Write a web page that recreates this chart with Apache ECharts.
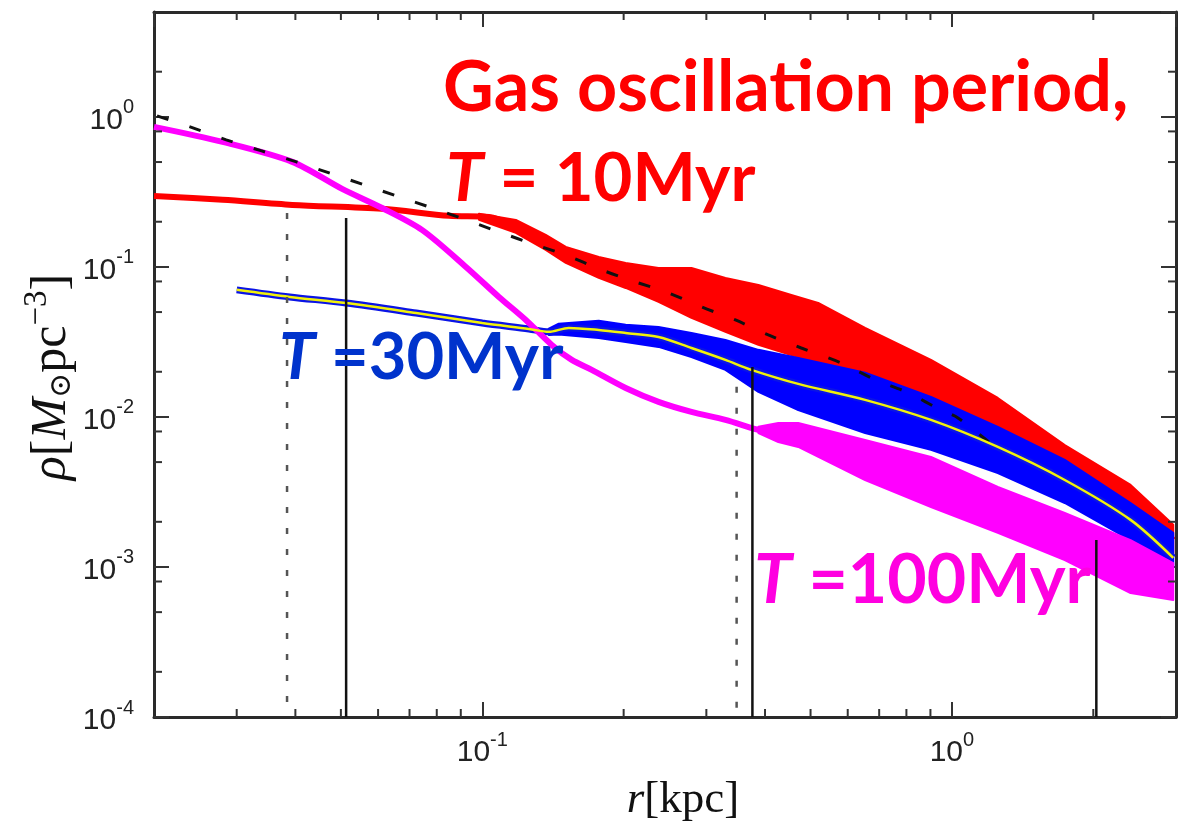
<!DOCTYPE html>
<html>
<head>
<meta charset="utf-8">
<script src="https://cdn.jsdelivr.net/npm/echarts@6/dist/echarts.min.js"></script>
<style>html,body{margin:0;padding:0;background:#fff}#c{width:1178px;height:824px}</style>
</head>
<body>
<div id="c"></div>
<script>
// ---- axis ranges / ticks ----
const xRange = [0.02, 3];
const yRange = [1e-4, 5];
const xMinorTicks = [0.03, 0.04, 0.05, 0.06, 0.07, 0.08, 0.09, 0.2, 0.3, 0.4, 0.5, 0.6, 0.7, 0.8, 0.9, 2];
const yMinorTicks = [2e-4, 5e-4, 8e-4, 2e-3, 5e-3, 8e-3, 0.02, 0.05, 0.08, 0.2, 0.5, 0.8, 2];

// ---- dashed model profile ----
const dashR   = [0.0203, 0.0242, 0.0285, 0.0339, 0.0402, 0.0472, 0.0561, 0.0665, 0.0782, 0.0923, 0.1085, 0.130, 0.1506, 0.1796, 0.2121, 0.2492, 0.2929, 0.3459, 0.4065, 0.4778, 0.5809, 0.6862, 0.8064, 0.9476, 1.030, 1.234];
const dashRho = [1.015, 0.845, 0.703, 0.593, 0.501, 0.423, 0.352, 0.293, 0.247, 0.206, 0.171, 0.140, 0.120, 0.0955, 0.0794, 0.0671, 0.0541, 0.0443, 0.0352, 0.0288, 0.0229, 0.0177, 0.0145, 0.0111, 0.00985, 0.00631];

// ---- T = 10 Myr (red) ----
const redR   = [0.0200, 0.0280, 0.0394, 0.0612, 0.0850, 0.1033, 0.1179, 0.1365, 0.1506, 0.1770, 0.2020, 0.2373, 0.2789, 0.3294, 0.3872, 0.4550, 0.5191, 0.6533, 0.9024, 1.2524, 1.739, 2.401, 2.96];
const redRho = [0.297, 0.280, 0.259, 0.244, 0.219, 0.215, 0.185, 0.145, 0.120, 0.100, 0.0885, 0.0759, 0.0671, 0.0558, 0.0479, 0.0411, 0.0363, 0.0251, 0.0154, 0.00926, 0.00501, 0.0028, 0.00151];
const redBandR  = [0.0984, 0.1179, 0.1365, 0.1506, 0.1770, 0.2020, 0.2373, 0.2789, 0.3294, 0.3872, 0.4550, 0.5191, 0.6533, 0.9024, 1.2524, 1.739, 2.401, 2.96];
const redBandHi = [0.226, 0.2057, 0.1634, 0.1359, 0.1166, 0.1063, 0.0985, 0.0985, 0.0845, 0.0759, 0.0651, 0.0575, 0.0392, 0.0240, 0.01338, 0.0065, 0.00352, 0.00191];
const redBandLo = [0.206, 0.1686, 0.1299, 0.1063, 0.0845, 0.0724, 0.0584, 0.0457, 0.0369, 0.0302, 0.0259, 0.0233, 0.0151, 0.00955, 0.00622, 0.0038, 0.00219, 0.00118];

// ---- T = 30 Myr (blue, yellow mean) ----
const blueR   = [0.0300, 0.0389, 0.0513, 0.0723, 0.1000, 0.1257, 0.1386, 0.1528, 0.1770, 0.2020, 0.2373, 0.2789, 0.3294, 0.3741, 0.4708, 0.6533, 0.9024, 1.2524, 1.739, 2.401, 2.96];
const blueRho = [0.0703, 0.0631, 0.0575, 0.0493, 0.0423, 0.0386, 0.0369, 0.0392, 0.0380, 0.0363, 0.0341, 0.0288, 0.0240, 0.0206, 0.0166, 0.0130, 0.00955, 0.00631, 0.0038, 0.00206, 0.00115];
const blueBandR  = [0.1386, 0.1455, 0.1770, 0.2020, 0.2373, 0.2789, 0.3294, 0.3872, 0.4708, 0.6533, 0.9024, 1.2524, 1.739, 2.401, 2.96];
const blueBandHi = [0.0388, 0.0418, 0.0437, 0.0411, 0.0398, 0.0363, 0.0326, 0.0280, 0.0247, 0.0197, 0.0136, 0.00858, 0.00517, 0.00267, 0.00169];
const blueBandLo = [0.0352, 0.0355, 0.0336, 0.0316, 0.0293, 0.0251, 0.0206, 0.0147, 0.0111, 0.00782, 0.00603, 0.00423, 0.00267, 0.00151, 0.0010];

// ---- T = 100 Myr (magenta) ----
const magR   = [0.0200, 0.0280, 0.0394, 0.0503, 0.0612, 0.0744, 0.0923, 0.1085, 0.1238, 0.1406, 0.1551, 0.1710, 0.2020, 0.2373, 0.2789, 0.3294, 0.3872, 0.4269, 0.4708, 0.6533, 0.9024, 1.2524, 1.739, 2.401, 2.96];
const magRho = [0.858, 0.681, 0.501, 0.331, 0.247, 0.1765, 0.100, 0.0631, 0.0443, 0.0302, 0.0240, 0.0206, 0.0156, 0.0126, 0.0108, 0.00955, 0.00819, 0.0077, 0.00759, 0.00517, 0.00369, 0.0024, 0.00158, 0.0010, 0.000794];
const magBandR  = [0.3872, 0.4269, 0.4708, 0.6533, 0.9024, 1.2524, 1.739, 2.401, 2.96];
const magBandHi = [0.0086, 0.0091, 0.00912, 0.00703, 0.00541, 0.00341, 0.00229, 0.00151, 0.00106];
const magBandLo = [0.0078, 0.0068, 0.00631, 0.0038, 0.00251, 0.00169, 0.00111, 0.00067, 0.000603];

// ---- vertical marker lines ----
const dottedR   = [0.0384, 0.348];
const dottedTop = [0.229, 0.0159];
const solidR    = [0.0513, 0.376, 2.03];
const solidTop  = [0.212, 0.0215, 0.00151];

// ---- texts ----
const xTickLabelBase = '10';
const titleLine1 = 'Gas oscillation period,';

const zip = (a, b) => a.map((v, i) => [v, b[i]]);

function bandSeries(rs, hi, lo, color, z) {
  return {
    type: 'custom', z: z, silent: true, clip: true,
    data: rs.map((r, i) => [r, hi[i], lo[i]]),
    renderItem: function (params, api) {
      if (params.dataIndex !== 0) return null;
      const pts = [];
      for (let i = 0; i < rs.length; i++) pts.push(api.coord([rs[i], hi[i]]));
      for (let i = rs.length - 1; i >= 0; i--) pts.push(api.coord([rs[i], lo[i]]));
      return { type: 'polygon', shape: { points: pts },
        style: { fill: color, stroke: color, lineWidth: 2, lineJoin: 'round' } };
    }
  };
}

function lineSeries(data, color, width, z, type) {
  return { type: 'line', data: data, z: z, symbol: 'none', silent: true, smooth: 0.3,
    lineStyle: { color: color, width: width, type: type || 'solid', cap: 'butt' } };
}

function vlineSeries(rs, tops, dotted, z) {
  return rs.map((r, i) => ({
    type: 'line', z: z, symbol: 'none', silent: true,
    data: [[r, tops[i]], [r, yRange[0]]],
    lineStyle: dotted ? { color: '#555', width: 2.5, type: [6, 15] } : { color: '#111', width: 2.5 }
  }));
}

function minorTickSeries(vals, isX) {
  return {
    type: 'custom', z: 30, silent: true, clip: false,
    data: vals.map(v => isX ? [v, 1] : [0.1, v]),
    renderItem: function (params, api) {
      const cs = params.coordSys;
      const p = api.coord([api.value(0), api.value(1)]);
      const L = 8;
      const st = { stroke: '#333', lineWidth: 2 };
      if (isX) {
        const x = p[0];
        return { type: 'group', children: [
          { type: 'line', shape: { x1: x, y1: cs.y + cs.height, x2: x, y2: cs.y + cs.height - L }, style: st },
          { type: 'line', shape: { x1: x, y1: cs.y, x2: x, y2: cs.y + L }, style: st }
        ]};
      }
      const y = p[1];
      return { type: 'group', children: [
        { type: 'line', shape: { x1: cs.x, y1: y, x2: cs.x + L, y2: y }, style: st },
        { type: 'line', shape: { x1: cs.x + cs.width, y1: y, x2: cs.x + cs.width - L, y2: y }, style: st }
      ]};
    }
  };
}

function decadeLabel(v) {
  const e = Math.log10(v), n = Math.round(e);
  if (Math.abs(e - n) > 1e-6) return '';
  return '{b|' + xTickLabelBase + '}{s|' + n + '}';
}

const labelRich = {
  b: { fontSize: 30, fontFamily: 'Liberation Sans', color: '#222', verticalAlign: 'bottom', lineHeight: 38 },
  s: { fontSize: 20, fontFamily: 'Liberation Sans', color: '#222', verticalAlign: 'top', lineHeight: 21 }
};

const axisLineStyle = { show: true, lineStyle: { color: '#2a2a2a', width: 3 } };
const majorTick = { show: true, inside: true, length: 15, lineStyle: { color: '#333', width: 2 } };

const chart = echarts.init(document.getElementById('c'), null, { renderer: 'canvas' });
chart.setOption({
  animation: false,
  backgroundColor: '#fff',
  grid: { left: 154, right: 2, top: 12, bottom: 107, containLabel: false },
  xAxis: [
    { type: 'log', logBase: 10, min: xRange[0], max: xRange[1], position: 'bottom',
      axisLine: axisLineStyle, axisTick: majorTick, splitLine: { show: false },
      axisLabel: { show: true, margin: 13, formatter: decadeLabel, rich: labelRich, showMinLabel: false, showMaxLabel: false } },
    { type: 'log', logBase: 10, min: xRange[0], max: xRange[1], position: 'top',
      axisLine: axisLineStyle, axisTick: majorTick, splitLine: { show: false }, axisLabel: { show: false } }
  ],
  yAxis: [
    { type: 'log', logBase: 10, min: yRange[0], max: yRange[1], position: 'left',
      axisLine: axisLineStyle, axisTick: majorTick, splitLine: { show: false },
      axisLabel: { show: true, margin: 20, formatter: decadeLabel, rich: labelRich, showMaxLabel: false } },
    { type: 'log', logBase: 10, min: yRange[0], max: yRange[1], position: 'right',
      axisLine: axisLineStyle, axisTick: majorTick, splitLine: { show: false }, axisLabel: { show: false } }
  ],
  series: [
    bandSeries(redBandR, redBandHi, redBandLo, '#ff0000', 1),
    lineSeries(zip(redR, redRho), '#ff0000', 6, 2),
    bandSeries(blueBandR, blueBandHi, blueBandLo, '#0000ff', 3),
    lineSeries(zip(blueR, blueRho), '#0a14e6', 7, 4),
    bandSeries(magBandR, magBandHi, magBandLo, '#ff00ff', 5),
    lineSeries(zip(magR, magRho), '#ff00ff', 6, 6),
    lineSeries(zip(dashR, dashRho), '#111', 3, 7, [12, 22]),
    lineSeries(zip(blueR, blueRho), '#f2f20a', 2.5, 8),
    ...vlineSeries(dottedR, dottedTop, true, 9),
    ...vlineSeries(solidR, solidTop, false, 9),
    minorTickSeries(xMinorTicks, true),
    minorTickSeries(yMinorTicks, false)
  ],
  graphic: [
    { type: 'text', x: 443, y: 88, z: 50, style: { text: titleLine1, font: 'bold 70px Lato', fill: '#ff0000', align: 'left', verticalAlign: 'middle' } },
    { type: 'text', x: 446, y: 179, z: 50, style: { text: '{i|T} = 10Myr', font: 'bold 67px Lato', fill: '#ff0000', align: 'left', verticalAlign: 'middle',
        rich: { i: { fontStyle: 'italic', fontWeight: 'bold', fontSize: 67, fontFamily: 'Lato', fill: '#ff0000' } } } },
    { type: 'text', x: 279, y: 358, z: 50, style: { text: '{i|T} =30Myr', font: 'bold 65px Lato', fill: '#0033cc', align: 'left', verticalAlign: 'middle',
        rich: { i: { fontStyle: 'italic', fontWeight: 'bold', fontSize: 65, fontFamily: 'Lato', fill: '#0033cc' } } } },
    { type: 'text', x: 754, y: 581, z: 50, style: { text: '{i|T} =100Myr', font: 'bold 68px Lato', fill: '#ff00e0', align: 'left', verticalAlign: 'middle',
        rich: { i: { fontStyle: 'italic', fontWeight: 'bold', fontSize: 68, fontFamily: 'Lato', fill: '#ff00e0' } } } },
    { type: 'text', x: 683, y: 800, z: 50, style: { text: '{i|r}{n|[kpc]}', align: 'center', verticalAlign: 'middle',
        rich: { i: { fontStyle: 'italic', fontSize: 45, fontFamily: 'Liberation Serif', fill: '#111' },
                n: { fontSize: 45, fontFamily: 'Liberation Serif', fill: '#111' } } } },
    { type: 'text', x: 49, y: 377, rotation: Math.PI / 2, z: 50, style: { text: '{i|ρ}{n|[}{i|M}{sub|⊙}{n|pc}{sup|−3}{n|]}', align: 'center', verticalAlign: 'middle',
        rich: { i: { fontStyle: 'italic', fontSize: 50, fontFamily: 'Liberation Serif', fill: '#111', verticalAlign: 'bottom', lineHeight: 56 },
                n: { fontSize: 50, fontFamily: 'Liberation Serif', fill: '#111', verticalAlign: 'bottom', lineHeight: 56 },
                sub: { fontSize: 30, fontFamily: 'DejaVu Serif', fill: '#111', verticalAlign: 'bottom', lineHeight: 42 },
                sup: { fontSize: 33, fontFamily: 'Liberation Serif', fill: '#111', verticalAlign: 'top', lineHeight: 34 } } } }
  ]
});
</script>
</body>
</html>
